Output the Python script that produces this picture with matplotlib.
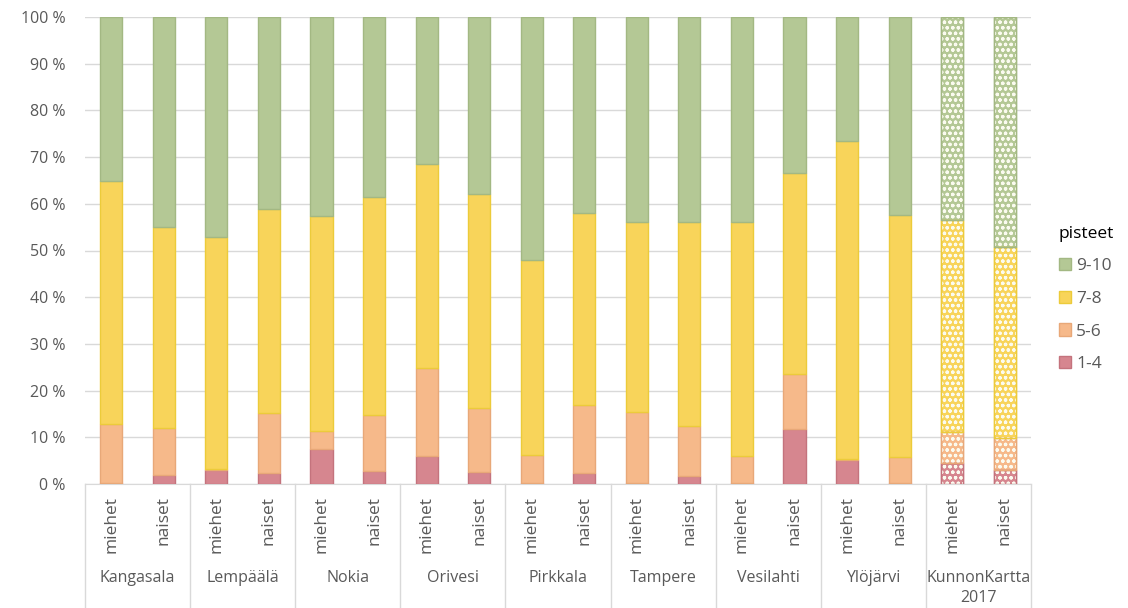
import matplotlib
matplotlib.use("Agg")
import matplotlib.pyplot as plt
import numpy as np
from matplotlib.patches import Patch

plt.rcParams['font.family'] = ['Open Sans', 'DejaVu Sans']

groups = ["Kangasala", "Lempäälä", "Nokia", "Orivesi", "Pirkkala",
          "Tampere", "Vesilahti", "Ylöjärvi", "KunnonKartta\n2017"]
genders = ["miehet", "naiset"]

# values in %, order: bar by bar (miehet, naiset for each group)
s14 = [0.3, 2.0, 3.0, 2.4, 7.5, 2.8, 6.0, 2.6, 0.2, 2.3,
       0.2, 1.8, 0.2, 11.8, 5.1, 0.2, 4.5, 3.0]
s56 = [12.5, 10.0, 0.3, 12.8, 3.8, 11.9, 18.8, 13.7, 6.0, 14.7,
       15.3, 10.6, 5.8, 11.7, 0.3, 5.6, 6.6, 6.9]
s78 = [52.1, 43.0, 49.6, 43.7, 46.1, 46.8, 43.7, 45.7, 41.8, 41.0,
       40.5, 43.6, 50.0, 43.1, 68.0, 51.8, 45.4, 40.8]
s910 = [100 - a - b - c for a, b, c in zip(s14, s56, s78)]

labels = ["9-10", "7-8", "5-6", "1-4"]
face = {"1-4": "#d6868f", "5-6": "#f6b98a", "7-8": "#f8d45a", "9-10": "#b4c895"}
edge = {"1-4": "#c4737d", "5-6": "#e8a878", "7-8": "#eccb3a", "9-10": "#a3b883"}

fig = plt.figure(figsize=(11.28, 6.08), dpi=100)
ax = fig.add_axes([85/1128, 1-484/608, (1031-85)/1128, (484-17)/608])

n = len(s14)
x = np.arange(n)
width = 0.42
series = [("1-4", s14), ("5-6", s56), ("7-8", s78), ("9-10", s910)]
bottom = np.zeros(n)
plt.rcParams['hatch.linewidth'] = 0.9
for name, vals in series:
    vals = np.array(vals)
    for i in range(n):
        ax.bar(x[i], vals[i], width, bottom=bottom[i], color=face[name],
               edgecolor=edge[name], linewidth=1.0, zorder=3)
        if i >= n - 2:
            ax.bar(x[i], vals[i], width, bottom=bottom[i], facecolor="none",
                   edgecolor="#fbfbf0", hatch="ooo", linewidth=0, zorder=4)
            ax.bar(x[i], vals[i], width, bottom=bottom[i], facecolor="none",
                   edgecolor=edge[name], linewidth=1.0, zorder=5)
    bottom += vals

ax.set_xlim(-0.5, n - 0.5)
ax.set_ylim(0, 100)
ax.set_yticks(range(0, 101, 10))
ax.set_yticklabels([f"{v} %" for v in range(0, 101, 10)], fontsize=11.5, color="#595959")
ax.tick_params(axis="y", length=0, pad=14)
ax.tick_params(axis="x", length=0, labelbottom=False)
ax.grid(axis="y", color="#d9d9d9", linewidth=1, zorder=0)
for sp in ["top", "right", "left"]:
    ax.spines[sp].set_visible(False)
ax.spines["bottom"].set_color("#d9d9d9")

# two-level category axis
trans = ax.get_xaxis_transform()
for i in range(n):
    ax.text(x[i], -0.025, genders[i % 2], rotation=90, ha="center", va="top",
            fontsize=12.5, color="#595959", transform=trans)
for g in range(len(groups)):
    ax.text(2*g + 0.5, -0.185, groups[g], ha="center", va="top", fontsize=11.5,
            color="#595959", transform=trans, linespacing=1.3)
for b in range(len(groups) + 1):
    ax.plot([b*2 - 0.5, b*2 - 0.5], [0, -0.27], color="#d9d9d9", linewidth=1,
            transform=trans, clip_on=False)

handles = [Patch(facecolor=face[l], edgecolor=edge[l], label=l) for l in labels]
leg = fig.legend(handles=handles, title="pisteet", loc="upper left",
                 bbox_to_anchor=(1043/1128, 1-210/608), frameon=False,
                 fontsize=12.5, title_fontsize=12.5, handlelength=0.7, handleheight=0.7,
                 handletextpad=0.3, labelspacing=0.95, labelcolor="#595959")
leg._legend_box.align = "left"

fig.savefig("out.png", dpi=100)
